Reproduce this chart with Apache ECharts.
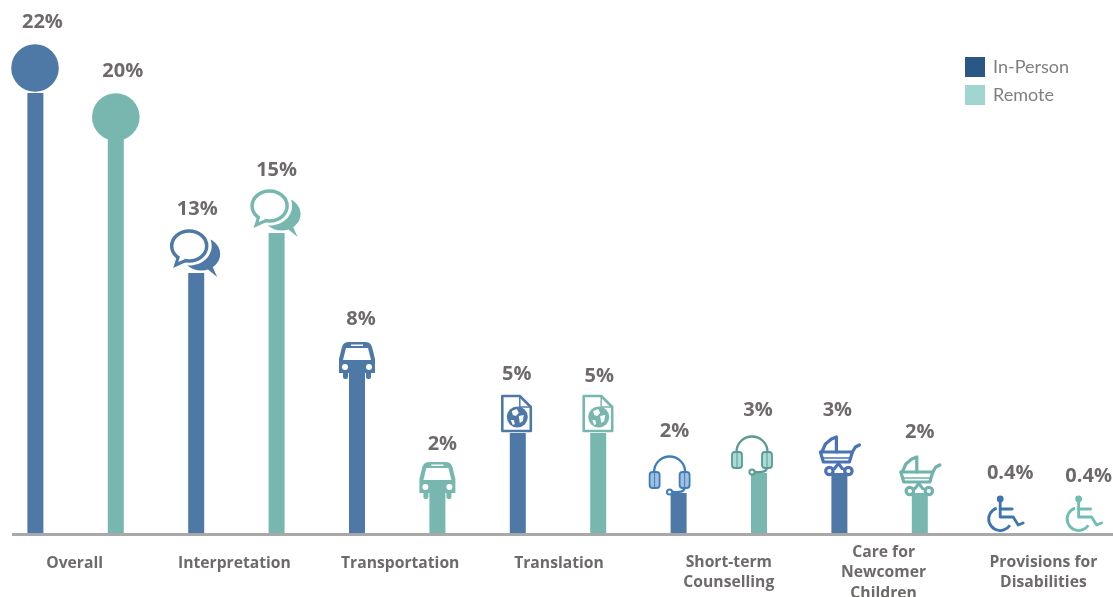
<!DOCTYPE html>
<html><head><meta charset="utf-8">
<style>html,body{margin:0;padding:0;background:#fff}#c{width:1113px;height:597px}</style>
<script src="https://cdn.jsdelivr.net/npm/echarts@6/dist/echarts.min.js"></script>
</head><body><div id="c"></div>
<script>
// ---- data ----
const categories = ['Overall','Interpretation','Transportation','Translation','Short-term\nCounselling','Care for\nNewcomer\nChildren','Provisions for\nDisabilities'];
const inPerson = [22,13,8,5,2,3,0.4];
const remote   = [20,15,2,5,3,2,0.4];
const iconKinds = ['disc','bubbles','bus','doc','headset','stroller','wheelchair'];

// ---- layout nudges (pixels), one per category ----
const iconNudgeIn  = [[-0.4,0],[0,0],[0,0],[-1,0],[-9,0],[0,0],[0,0]];
const iconNudgeRe  = [[0,9],[0,0],[0,0],[0,0],[-7,0],[0,0],[-2,0]];
const labelNudgeIn = [[7,-71],[1,-64],[4,-54],[-1,-59],[-4,-62],[-2,-63],[10,-52]];
const labelNudgeRe = [[7,-62],[0,-63],[5,-49],[1,-57],[-1,-63],[0,-61],[8,-49]];
const axisLabelStyle = [
  {padding:[12,2,0,0]},{padding:[12,4,0,0]},{padding:[12,0,0,6]},{padding:[12,0,0,2]},
  {padding:[11,0,0,20]},{padding:[1,0,0,8]},{padding:[11,0,0,6]}
];

const C_IN='#4e79a7', C_RE='#78b7af';
const palette = {
  in:{main:C_IN,head:'#3f7dbd',cup:'#9fc0de',pram:'#4a72b4',chair:'#3f75ad'},
  re:{main:C_RE,head:'#5b9a93',cup:'#a9dcd5',pram:'#6fb3ab',chair:'#70bdb4'}
};
const WHITE='#fff';
const line=(points,stroke,w)=>({type:'polyline',shape:{points},style:{fill:'none',stroke,lineWidth:w,lineJoin:'round',lineCap:'round'}});
const poly=(points,fill)=>({type:'polygon',shape:{points},style:{fill}});
const circ=(cx,cy,r,fill,stroke,w)=>({type:'circle',shape:{cx,cy,r},style:{fill,stroke:stroke||null,lineWidth:w||0}});
const ell=(cx,cy,rx,ry,fill,stroke,w)=>({type:'ellipse',shape:{cx,cy,rx,ry},style:{fill,stroke:stroke||null,lineWidth:w||0}});
const rect=(x,y,width,height,r,fill,stroke,w)=>({type:'rect',shape:{x,y,width,height,r},style:{fill,stroke:stroke||null,lineWidth:w||0}});

const drawIcon={
  disc:p=>[circ(0,-25,23.8,p.main)],
  bubbles:p=>[
    ell(5,-19,19,16.5,p.main), poly([[10,-5],[21,4],[16,-7]],p.main),
    ell(-7,-27,22.5,19.5,WHITE), poly([[-22,-16],[-25,-3],[-8,-8]],WHITE),
    poly([[-19,-18],[-23,-5],[-10,-11]],p.main),
    ell(-7,-27,17.5,15,WHITE,p.main,3.5), poly([[-16,-17],[-18,-11],[-11,-14]],WHITE)
  ],
  bus:p=>[
    rect(-15,-31,30,12,7,p.main),
    poly([[-15,-26],[15,-26],[18,-14],[18,0],[-18,0],[-18,-14]],p.main),
    rect(-14,-2,5,8,2,p.main), rect(9,-2,5,8,2,p.main),
    poly([[-11,-25],[11,-25],[14,-13],[-14,-13]],WHITE),
    rect(-6,-28.5,12,1.5,0,WHITE),
    circ(-12,-6,3,WHITE), circ(12,-6,3,WHITE)
  ],
  doc:p=>[
    poly([[-14,-37],[3,-37],[14,-26],[14,-2],[-14,-2]],WHITE),
    line([[-14.5,-37],[3,-37],[14,-26],[14,-2],[-14.5,-2],[-14.5,-37]],p.main,2.6),
    line([[3,-37],[3,-26],[14,-26]],p.main,1.5),
    circ(0.5,-16,10.5,p.main),
    poly([[-5,-22],[0,-24],[2,-20],[-1,-17],[-4,-18]],WHITE),
    poly([[2,-17],[7,-18],[6,-12],[3,-10]],WHITE),
    poly([[-6,-13],[-3,-13],[-2,-9],[-4,-8]],WHITE)
  ],
  headset:p=>[
    {type:'arc',shape:{cx:0,cy:-21,r:15.5,startAngle:Math.PI,endAngle:2*Math.PI,clockwise:true},style:{fill:'none',stroke:p.head,lineWidth:2.3}},
    rect(-20,-21,10,16,3,p.cup,p.head,1.8), rect(10,-21,10,16,3,p.cup,p.head,1.8),
    line([[-15,-20],[-15,-6]],p.head,1), line([[15,-20],[15,-6]],p.head,1),
    {type:'bezierCurve',shape:{x1:15,y1:-5,x2:3,y2:-1,cpx1:14,cpy1:0,cpx2:8,cpy2:-1},style:{fill:'none',stroke:p.head,lineWidth:2.3}},
    circ(0,-1,2.6,WHITE,p.head,2)
  ],
  stroller:p=>[
    poly([[-1,-12],[6,-3],[-8,-3]],p.pram), poly([[-1,-7],[2,-3],[-4,-3]],WHITE),
    circ(-10,-2,3.7,WHITE,p.pram,3.2), circ(9,-2,3.7,WHITE,p.pram,3.2),
    line([[-17,-22],[-14,-29],[-8,-34],[-3,-36],[-3,-21]],p.pram,3.2),
    line([[-19,-21],[13,-21],[10,-11],[-16,-11],[-19,-21]],p.pram,3.2),
    line([[-17,-15],[11,-15]],p.pram,1.5),
    line([[13,-21],[16,-26],[20,-28]],p.pram,3.2)
  ],
  wheelchair:p=>[
    {type:'arc',shape:{cx:0,cy:-6,r:11.5,startAngle:-Math.PI*0.6,endAngle:Math.PI*0.18,clockwise:false},style:{fill:'none',stroke:p.chair,lineWidth:2.8}},
    circ(0,-26,3.4,p.chair),
    line([[0,-25],[0,-8],[13,-8],[18,0],[23,-2]],p.chair,2.8),
    line([[0,-16],[12,-16]],p.chair,2.8)
  ]
};

function iconSeries(name,values,side,pal,iconNudge,labelNudge){
  return {
    type:'custom',name,z:5,clip:false,
    data:values.map((v,i)=>[i,v]),
    encode:{x:0,y:1},
    renderItem(params,api){
      const i=api.value(0), v=api.value(1);
      const pt=api.coord([i,v]);
      const x=pt[0]+side*api.size([1,0])[0]/4, y=pt[1];
      const n=iconNudge[i], l=labelNudge[i];
      return {type:'group',x,y,children:[
        {type:'group',x:n[0],y:n[1],children:drawIcon[iconKinds[i]](pal)},
        {type:'text',style:{text:v+'%',x:l[0],y:l[1],textAlign:'center',verticalAlign:'middle',textVerticalAlign:'middle',
          fill:'#6e6a6a',fontFamily:'"Open Sans"',fontWeight:700,fontSize:20}}
      ]};
    }
  };
}
// the 0.4% stems are not visible in the picture: only the wheelchair shows
const stems=vals=>vals.map(v=>v<1?{value:v,itemStyle:{opacity:0}}:v);

const chart=echarts.init(document.getElementById('c'),null,{renderer:'canvas'});
chart.setOption({
  animation:false,backgroundColor:'#fff',
  grid:{left:-4.8,width:1125.6,top:13,height:520,outerBoundsMode:'none',containLabel:false},
  legend:{left:965,top:57,padding:0,orient:'vertical',itemWidth:20,itemHeight:20,itemGap:8,
    selectedMode:false,
    textStyle:{color:'#7f7f7f',fontFamily:'Lato',fontSize:18,padding:[4,0,0,3]},
    data:[{name:'In-Person',icon:'rect',itemStyle:{color:'#2a5783'}},{name:'Remote',icon:'rect',itemStyle:{color:'#a0d5d0'}}]},
  xAxis:{type:'category',data:categories.map((value,i)=>({value,textStyle:axisLabelStyle[i]})),
    axisLine:{show:false},axisTick:{show:false},
    axisLabel:{interval:0,margin:8,verticalAlign:'top',lineHeight:20.5,color:'#6e6a6a',
      fontFamily:'"Open Sans"',fontWeight:700,fontSize:15.7}},
  yAxis:{type:'value',min:0,max:26,show:false,splitLine:{show:false}},
  graphic:[{type:'rect',left:12,top:533,shape:{width:1101,height:3},style:{fill:'#a8a8a8'},z:10}],
  series:[
    {type:'bar',name:'In-Person',data:stems(inPerson),barWidth:16,barGap:'402.5%',itemStyle:{color:C_IN},z:2},
    {type:'bar',name:'Remote',data:stems(remote),barWidth:16,itemStyle:{color:C_RE},z:2},
    iconSeries('In-Person',inPerson,-1,palette.in,iconNudgeIn,labelNudgeIn),
    iconSeries('Remote',remote,1,palette.re,iconNudgeRe,labelNudgeRe)
  ]
});
</script></body></html>
